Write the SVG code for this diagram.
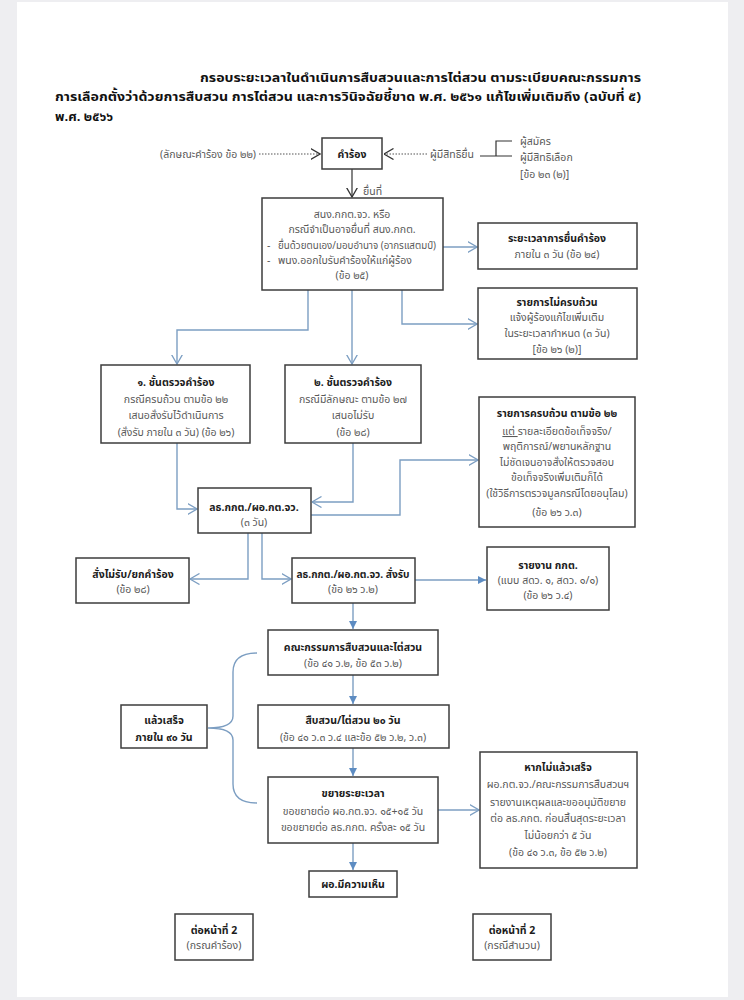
<svg xmlns="http://www.w3.org/2000/svg" width="744" height="1000" viewBox="0 0 744 1000">
<style>
text{font-family:"Noto Sans Thai","Noto Sans","DejaVu Sans",sans-serif;font-size:10.5px;fill:#595959}
.b{font-weight:bold;fill:#1c1c1c}
.t{font-weight:bold;fill:#111;font-size:13px}
.c{text-anchor:middle}
.box{fill:#fff;stroke:#3c3c3c;stroke-width:1.5}
.ln{fill:none;stroke:#7c9ec2;stroke-width:1.4}
.dk{fill:none;stroke:#333;stroke-width:1.2}
.dot{fill:none;stroke:#555;stroke-width:1.1;stroke-dasharray:1.5 1.5}
</style>
<defs>
<marker id="chev" viewBox="0 0 10 12" refX="9.5" refY="6" markerWidth="10" markerHeight="12" orient="auto" markerUnits="userSpaceOnUse"><path d="M0,0.5 L9.5,6 L0,11.5" fill="none" stroke="#7c9ec2" stroke-width="1.3"/></marker>
<marker id="chevk" viewBox="0 0 10 12" refX="9.5" refY="6" markerWidth="10" markerHeight="12" orient="auto" markerUnits="userSpaceOnUse"><path d="M0,0.5 L9.5,6 L0,11.5" fill="none" stroke="#333" stroke-width="1.3"/></marker>
<marker id="tri" viewBox="0 0 8 8" refX="8" refY="4" markerWidth="8" markerHeight="8" orient="auto" markerUnits="userSpaceOnUse"><path d="M0,0 L8,4 L0,8 Z" fill="#5d8cc2"/></marker>
</defs>
<rect width="744" height="1000" fill="#eeeef1"/>
<rect x="17" y="2" width="711" height="995" fill="#fff"/>

<g id="title">
<text class="t" x="200" y="82" textLength="441" lengthAdjust="spacingAndGlyphs">กรอบระยะเวลาในดำเนินการสืบสวนและการไต่สวน ตามระเบียบคณะกรรมการ</text>
<text class="t" x="55" y="101" textLength="586" lengthAdjust="spacingAndGlyphs">การเลือกตั้งว่าด้วยการสืบสวน การไต่สวน และการวินิจฉัยชี้ขาด พ.ศ. ๒๕๖๑ แก้ไขเพิ่มเติมถึง (ฉบับที่ ๕)</text>
<text class="t" x="55" y="121">พ.ศ. ๒๕๖๖</text>
</g>

<g id="connectors">
<path class="dot" d="M259,154 H320" marker-end="url(#chevk)"/>
<path class="dot" d="M427,154 H384" marker-end="url(#chevk)"/>
<path class="dk" d="M480,156 H512 M496,156 V141 H512"/>
<path class="dk" d="M352,169 V197" marker-end="url(#chevk)"/>
<path class="ln" d="M443,247 H477" marker-end="url(#chev)"/>
<path class="ln" d="M402,290 V324 H477" marker-end="url(#chev)"/>
<path class="ln" d="M352,290 V364" marker-end="url(#chev)"/>
<path class="ln" d="M308,290 V330 H177 V364" marker-end="url(#chev)"/>
<path class="ln" d="M177,443 V509 H197" marker-end="url(#chev)"/>
<path class="ln" d="M353,443 V502 H312" marker-end="url(#chev)"/>
<path class="ln" d="M311,515 H400 V460 H478" marker-end="url(#chev)"/>
<path class="ln" d="M248,533 V579 H190" marker-end="url(#chev)"/>
<path class="ln" d="M262,533 V579 H291" marker-end="url(#chev)"/>
<path class="ln" d="M415,580 H486" marker-end="url(#tri)"/>
<path class="ln" d="M353,603 V629" marker-end="url(#tri)"/>
<path class="ln" d="M353,675 V704" marker-end="url(#tri)"/>
<path class="ln" d="M353,748 V776" marker-end="url(#tri)"/>
<path class="ln" d="M438,810 H479" marker-end="url(#chev)"/>
<path class="ln" d="M353,843 V870" marker-end="url(#tri)"/>
<path class="ln" d="M257,653 Q233,653 233,672 V716 Q233,728 208,728 Q233,728 233,740 V784 Q233,803 257,803"/>
</g>

<g id="labels-top">
<text x="160" y="158">(ลักษณะคำร้อง ข้อ ๒๒)</text>
<text x="430" y="158">ผู้มีสิทธิยื่น</text>
<text x="520" y="145">ผู้สมัคร</text>
<text x="520" y="161">ผู้มีสิทธิเลือก</text>
<text x="520" y="178">[ข้อ ๒๓ (๒)]</text>
<text x="363" y="195">ยื่นที่</text>
</g>

<g id="n-request">
<rect class="box" x="322" y="138" width="60" height="31"/>
<text class="b c" x="352" y="158">คำร้อง</text>
</g>

<g id="n-submit">
<rect class="box" x="262" y="198" width="181" height="92"/>
<text class="c" x="352" y="218">สนง.กกต.จว. หรือ</text>
<text class="c" x="352" y="233">กรณีจำเป็นอาจยื่นที่ สนง.กกต.</text>
<text x="267" y="249">-</text>
<text x="278" y="249" textLength="158" lengthAdjust="spacingAndGlyphs">ยื่นด้วยตนเอง/มอบอำนาจ (อากรแสตมป์)</text>
<text x="267" y="264">-</text>
<text x="278" y="264">พนง.ออกใบรับคำร้องให้แก่ผู้ร้อง</text>
<text class="c" x="352" y="279">(ข้อ ๒๕)</text>
</g>

<g id="n-period">
<rect class="box" x="478" y="223" width="159" height="46"/>
<text class="b c" x="557" y="242">ระยะเวลาการยื่นคำร้อง</text>
<text class="c" x="557" y="258">ภายใน ๓ วัน (ข้อ ๒๔)</text>
</g>

<g id="n-incomplete">
<rect class="box" x="478" y="288" width="159" height="71"/>
<text class="b c" x="557" y="306">รายการไม่ครบถ้วน</text>
<text class="c" x="557" y="321">แจ้งผู้ร้องแก้ไขเพิ่มเติม</text>
<text class="c" x="557" y="337">ในระยะเวลากำหนด (๓ วัน)</text>
<text class="c" x="557" y="353">[ข้อ ๒๖ (๒)]</text>
</g>

<g id="n-check1">
<rect class="box" x="101" y="365" width="149" height="78"/>
<text class="b c" x="176" y="386">๑. ชั้นตรวจคำร้อง</text>
<text class="c" x="176" y="403">กรณีครบถ้วน ตามข้อ ๒๒</text>
<text class="c" x="176" y="419">เสนอสั่งรับไว้ดำเนินการ</text>
<text class="c" x="176" y="436">(สั่งรับ ภายใน ๓ วัน) (ข้อ ๒๖)</text>
</g>

<g id="n-check2">
<rect class="box" x="285" y="365" width="136" height="78"/>
<text class="b c" x="353" y="386">๒. ชั้นตรวจคำร้อง</text>
<text class="c" x="353" y="403">กรณีมีลักษณะ ตามข้อ ๒๗</text>
<text class="c" x="353" y="419">เสนอไม่รับ</text>
<text class="c" x="353" y="436">(ข้อ ๒๘)</text>
</g>

<g id="n-complete">
<rect class="box" x="479" y="397" width="156" height="130"/>
<text class="b c" x="557" y="417">รายการครบถ้วน ตามข้อ ๒๒</text>
<text class="c" x="557" y="435"><tspan text-decoration="underline">แต่ </tspan>รายละเอียดข้อเท็จจริง/</text>
<text class="c" x="557" y="450">พฤติการณ์/พยานหลักฐาน</text>
<text class="c" x="557" y="466">ไม่ชัดเจนอาจสั่งให้ตรวจสอบ</text>
<text class="c" x="557" y="481">ข้อเท็จจริงเพิ่มเติมก็ได้</text>
<text class="c" x="557" y="497">(ใช้วิธีการตรวจมูลกรณีโดยอนุโลม)</text>
<text class="c" x="557" y="516">(ข้อ ๒๖ ว.๓)</text>
</g>

<g id="n-sec">
<rect class="box" x="198" y="488" width="113" height="45"/>
<text class="b c" x="254" y="511">ลธ.กกต./ผอ.กต.จว.</text>
<text class="c" x="254" y="526">(๓ วัน)</text>
</g>

<g id="n-reject">
<rect class="box" x="76" y="558" width="113" height="45"/>
<text class="b c" x="133" y="578">สั่งไม่รับ/ยกคำร้อง</text>
<text class="c" x="133" y="593">(ข้อ ๒๘)</text>
</g>

<g id="n-accept">
<rect class="box" x="292" y="558" width="123" height="45"/>
<text class="b c" x="353" y="578" textLength="113" lengthAdjust="spacingAndGlyphs">ลธ.กกต./ผอ.กต.จว. สั่งรับ</text>
<text class="c" x="353" y="593">(ข้อ ๒๖ ว.๒)</text>
</g>

<g id="n-report">
<rect class="box" x="487" y="547" width="122" height="63"/>
<text class="b c" x="548" y="569">รายงาน กกต.</text>
<text class="c" x="548" y="584">(แบบ สดว. ๑, สดว. ๑/๑)</text>
<text class="c" x="548" y="599">(ข้อ ๒๖ ว.๔)</text>
</g>

<g id="n-committee">
<rect class="box" x="268" y="630" width="170" height="45"/>
<text class="b c" x="353" y="651">คณะกรรมการสืบสวนและไต่สวน</text>
<text class="c" x="353" y="667">(ข้อ ๔๑ ว.๒, ข้อ ๕๓ ว.๒)</text>
</g>

<g id="n-90days">
<rect class="box" x="121" y="705" width="86" height="43"/>
<text class="b c" x="164" y="724">แล้วเสร็จ</text>
<text class="b c" x="164" y="741">ภายใน ๙๐ วัน</text>
</g>

<g id="n-investigate">
<rect class="box" x="258" y="705" width="191" height="43"/>
<text class="b c" x="353" y="724">สืบสวน/ไต่สวน ๒๐ วัน</text>
<text class="c" x="353" y="741">(ข้อ ๔๑ ว.๓ ว.๔ และข้อ ๕๒ ว.๒, ว.๓)</text>
</g>

<g id="n-extend">
<rect class="box" x="268" y="777" width="170" height="66"/>
<text class="b c" x="353" y="797">ขยายระยะเวลา</text>
<text class="c" x="353" y="815">ขอขยายต่อ ผอ.กต.จว. ๑๕+๑๕ วัน</text>
<text class="c" x="353" y="831">ขอขยายต่อ ลธ.กกต. ครั้งละ ๑๕ วัน</text>
</g>

<g id="n-notdone">
<rect class="box" x="480" y="752" width="157" height="116"/>
<text class="b c" x="558" y="771">หากไม่แล้วเสร็จ</text>
<text class="c" x="558" y="788">ผอ.กต.จว./คณะกรรมการสืบสวนฯ</text>
<text class="c" x="558" y="806">รายงานเหตุผลและขออนุมัติขยาย</text>
<text class="c" x="558" y="822">ต่อ ลธ.กกต. ก่อนสิ้นสุดระยะเวลา</text>
<text class="c" x="558" y="839">ไม่น้อยกว่า ๕ วัน</text>
<text class="c" x="558" y="856">(ข้อ ๔๑ ว.๓, ข้อ ๕๒ ว.๒)</text>
</g>

<g id="n-opinion">
<rect class="box" x="309" y="871" width="88" height="26"/>
<text class="b c" x="353" y="888">ผอ.มีความเห็น</text>
</g>

<g id="n-next1">
<rect class="box" x="175" y="914" width="78" height="46"/>
<text class="b c" x="214" y="934">ต่อหน้าที่ 2</text>
<text class="c" x="214" y="949">(กรณคำร้อง)</text>
</g>

<g id="n-next2">
<rect class="box" x="473" y="914" width="78" height="46"/>
<text class="b c" x="512" y="934">ต่อหน้าที่ 2</text>
<text class="c" x="512" y="949">(กรณีสำนวน)</text>
</g>
</svg>
